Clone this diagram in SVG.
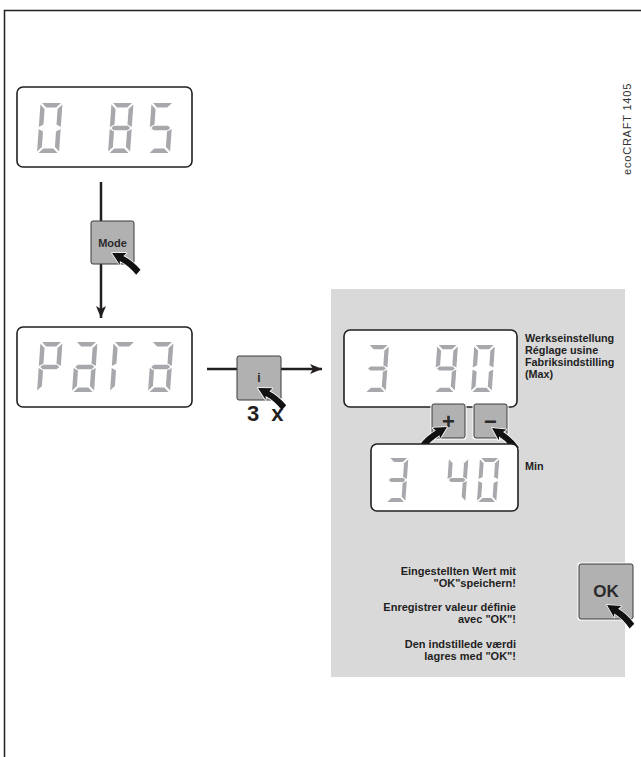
<svg xmlns="http://www.w3.org/2000/svg" xmlns:xlink="http://www.w3.org/1999/xlink" width="641" height="757" viewBox="0 0 641 757">
<style>
.disp{fill:#fff;stroke:#231f20;stroke-width:1.6}
.seg{fill:#a6a8ab}
.btn{fill:#b1b1b1;stroke:#3a3a3a;stroke-width:1}
.halo{fill:#fff}
.ln{stroke:#231f20;stroke-width:2.5;fill:none}
.ptr{fill:#111;stroke:#fff;stroke-width:1.5;paint-order:stroke;stroke-linejoin:round}
.lbl{font-family:"Liberation Sans",Arial,sans-serif;font-weight:bold;fill:#1f1f1f}
.btxt{font-family:"Liberation Sans",Arial,sans-serif;font-weight:bold;fill:#2b2b2b;text-anchor:middle}
</style>
<defs>
<polygon id="sa" class="seg" points="1.5,0 20.5,0 16,4.5 6,4.5"/>
<polygon id="sb" class="seg" points="22,1.5 22,24 17.5,21.5 17.5,6"/>
<polygon id="sc" class="seg" points="22,26 22,48.5 17.5,44 17.5,28.5"/>
<polygon id="sd" class="seg" points="6,45.5 16,45.5 20.5,50 1.5,50"/>
<polygon id="se" class="seg" points="0,26 4.5,28.5 4.5,44 0,48.5"/>
<polygon id="sf" class="seg" points="0,1.5 4.5,6 4.5,21.5 0,24"/>
<polygon id="sg" class="seg" points="1.5,25 4,22.75 18,22.75 20.5,25 18,27.25 4,27.25"/>
<g id="d0"><use href="#sa"/><use href="#sb"/><use href="#sc"/><use href="#sd"/><use href="#se"/><use href="#sf"/></g>
<g id="d3"><use href="#sa"/><use href="#sb"/><use href="#sc"/><use href="#sd"/><use href="#sg"/></g>
<g id="d4"><use href="#sb"/><use href="#sc"/><use href="#sf"/><use href="#sg"/></g>
<g id="d5"><use href="#sa"/><use href="#sc"/><use href="#sd"/><use href="#sf"/><use href="#sg"/></g>
<g id="d8"><use href="#sa"/><use href="#sb"/><use href="#sc"/><use href="#sd"/><use href="#se"/><use href="#sf"/><use href="#sg"/></g>
<g id="d9"><use href="#sa"/><use href="#sb"/><use href="#sc"/><use href="#sd"/><use href="#sf"/><use href="#sg"/></g>
<g id="dP"><use href="#sa"/><use href="#sb"/><use href="#se"/><use href="#sf"/><use href="#sg"/></g>
<g id="da"><use href="#sa"/><use href="#sb"/><use href="#sc"/><use href="#sd"/><use href="#se"/><use href="#sg"/></g>
<g id="dr"><use href="#sa"/><use href="#se"/><use href="#sf"/></g>
<path id="ptr" class="ptr" d="M0,0 L13,-6.5 L11.5,-2.5 Q22,-2.5 33,2 L31.5,8.5 Q21,3.5 10.5,3.5 L12.5,7 Z"/>
<marker id="ah" markerUnits="userSpaceOnUse" markerWidth="14" markerHeight="12" refX="12" refY="5" orient="auto">
<path d="M0,0 L12,5 L0,10 L3,5 Z" fill="#231f20"/>
</marker>
</defs>
<g id="frame" fill="none" stroke="#231f20" stroke-width="1.5">
<path d="M4.5,757 V10.5 H641"/>
</g>
<rect id="panel" x="331" y="289" width="294" height="388" fill="#d9d9d9"/>
<g id="connectors">
<line class="ln" x1="101" y1="182" x2="101" y2="221"/>
<line class="ln" x1="101" y1="264" x2="101" y2="318" marker-end="url(#ah)"/>
<line class="ln" x1="207" y1="369" x2="237" y2="369"/>
<line class="ln" x1="281" y1="369" x2="322" y2="369" marker-end="url(#ah)"/>
</g>
<g id="display-085">
<rect class="disp" x="17" y="87" width="175" height="80" rx="6"/>
<use href="#d0" transform="translate(40.5,103) skewX(-4)"/>
<use href="#d8" transform="translate(111.5,103) skewX(-4)"/>
<use href="#d5" transform="translate(151.5,103) skewX(-4)"/>
</g>
<g id="btn-mode">
<rect class="btn" x="91" y="221" width="43" height="43" rx="2"/>
<text class="btxt" x="112.5" y="247" font-size="11">Mode</text>
<use href="#ptr" transform="translate(112,253) rotate(27)"/>
</g>
<g id="display-para">
<rect class="disp" x="17" y="327" width="175" height="80" rx="6"/>
<use href="#dP" transform="translate(40.5,342) skewX(-4)"/>
<use href="#da" transform="translate(75.5,342) skewX(-4)"/>
<use href="#dr" transform="translate(113.5,342) skewX(-4)"/>
<use href="#da" transform="translate(151.5,342) skewX(-4)"/>
</g>
<g id="btn-i">
<rect class="btn" x="237" y="356" width="44" height="44" rx="2"/>
<text class="btxt" x="259" y="382" font-size="12">i</text>
<use href="#ptr" transform="translate(258,388) rotate(28)"/>
<text class="lbl" x="247" y="421" font-size="22" fill="#333" word-spacing="6">3 x</text>
</g>
<g id="display-390">
<rect class="disp" x="344" y="330" width="173" height="77" rx="6"/>
<use href="#d3" transform="translate(368.3,345) skewX(-4) scale(0.94)"/>
<use href="#d9" transform="translate(437.3,345) skewX(-4) scale(0.94)"/>
<use href="#d0" transform="translate(474.3,345) skewX(-4) scale(0.94)"/>
</g>
<g id="label-max">
<text class="lbl" font-size="10.8"><tspan x="525" y="342">Werkseinstellung</tspan><tspan x="525" y="354">Réglage usine</tspan><tspan x="525" y="366">Fabriksindstilling</tspan><tspan x="525" y="378">(Max)</tspan></text>
</g>
<g id="btn-plus">
<rect class="halo" x="430.5" y="402.5" width="36" height="37" rx="2"/>
<rect class="btn" x="432" y="404" width="33" height="34" rx="2"/>
<text class="btxt" x="448.5" y="429" font-size="22" fill="#111">+</text>
<use href="#ptr" transform="translate(447,427) scale(-1,1) rotate(30)"/>
</g>
<g id="btn-minus">
<rect class="halo" x="472.5" y="402.5" width="36" height="37" rx="2"/>
<rect class="btn" x="474" y="404" width="33" height="34" rx="2"/>
<text class="btxt" x="490.5" y="429" font-size="22" fill="#111">−</text>
<use href="#ptr" transform="translate(492,428) rotate(32)"/>
</g>
<g id="display-340">
<rect class="disp" x="371" y="444" width="147" height="67" rx="6"/>
<use href="#d3" transform="translate(389,458) skewX(-4) scale(0.88)"/>
<use href="#d4" transform="translate(449,458) skewX(-4) scale(0.88)"/>
<use href="#d0" transform="translate(480,458) skewX(-4) scale(0.88)"/>
</g>
<g id="label-min">
<text class="lbl" x="525" y="470" font-size="10.8">Min</text>
</g>
<g id="instructions">
<text class="lbl" font-size="11" text-anchor="end"><tspan x="516" y="575">Eingestellten Wert mit</tspan><tspan x="516" y="587">"OK"speichern!</tspan><tspan x="516" y="611">Enregistrer valeur définie</tspan><tspan x="516" y="623">avec "OK"!</tspan><tspan x="516" y="648">Den indstillede værdi</tspan><tspan x="516" y="660">lagres med "OK"!</tspan></text>
</g>
<g id="btn-ok">
<rect class="halo" x="577.5" y="562.5" width="57" height="58" rx="2"/>
<rect class="btn" x="579" y="564" width="54" height="55" rx="2"/>
<text class="btxt" x="606" y="597" font-size="17">OK</text>
<use href="#ptr" transform="translate(607,605) rotate(31)"/>
</g>
<text x="631" y="175" transform="rotate(-90 631 175)" font-family="Liberation Sans,Arial,sans-serif" font-size="11" fill="#333" letter-spacing="0.8">ecoCRAFT 1405</text>
</svg>
